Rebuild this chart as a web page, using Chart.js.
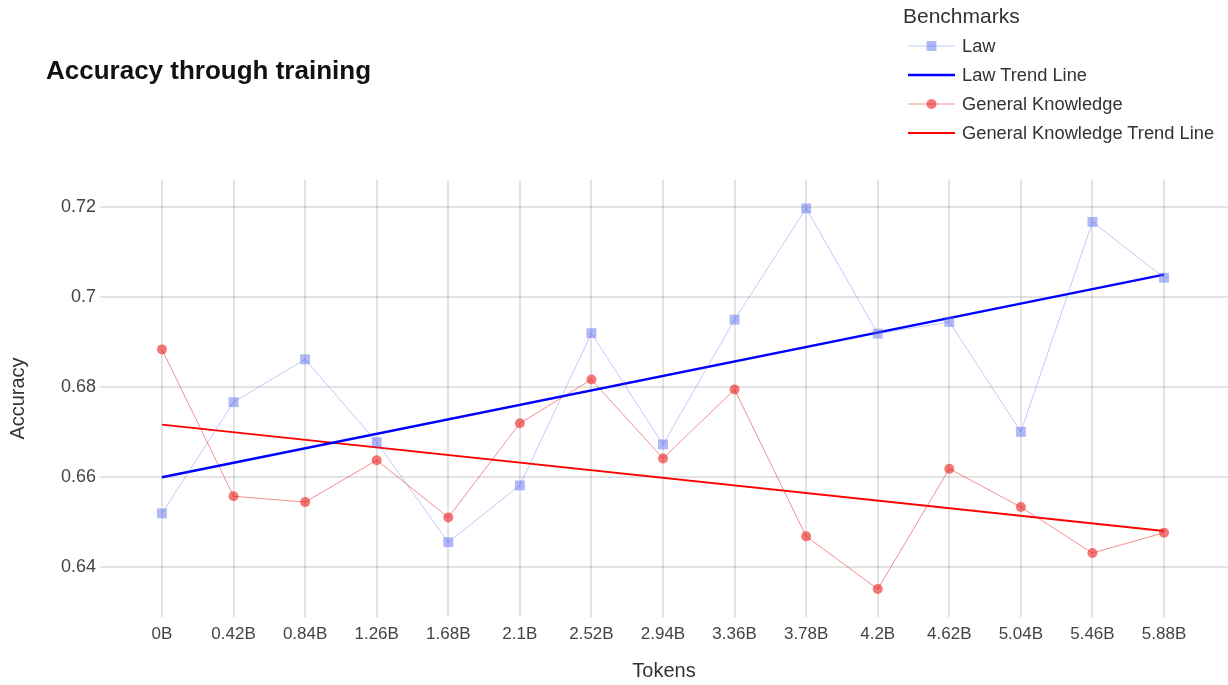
<!DOCTYPE html>
<html>
<head>
<meta charset="utf-8">
<script src="https://cdn.jsdelivr.net/npm/chart.js@4"></script>
<style>
    body { margin: 0; background: #fff; font-family: "Liberation Sans", Arial, sans-serif; }
    #wrap { position: relative; width: 1228px; height: 685px; }
    #title { position: absolute; left: 46px; top: 55px; font-size: 26px; font-weight: bold; color: #111; }
    #legend { position: absolute; left: 903px; top: 0; color: #333; }
    #legend .head { font-size: 21px; line-height: 31px; height: 31px; }
    #legend .row { display: flex; align-items: center; height: 29px; font-size: 18.3px; }
    #legend canvas { margin-left: 5px; margin-right: 7px; }
</style>
</head>
<body>
<div id="wrap">
    <canvas id="chart" width="1228" height="685"></canvas>
    <div id="title">Accuracy through training</div>
    <div id="legend"><div class="head">Benchmarks</div></div>
</div>
<script>
const tokenLabels = ["0B", "0.42B", "0.84B", "1.26B", "1.68B", "2.1B", "2.52B", "2.94B",
    "3.36B", "3.78B", "4.2B", "4.62B", "5.04B", "5.46B", "5.88B"];
const lawAcc = [0.652, 0.6767, 0.6862, 0.6678, 0.6456, 0.6582, 0.692, 0.6673,
    0.695, 0.7197, 0.6919, 0.6945, 0.6701, 0.7167, 0.7043];
const gkAcc = [0.6884, 0.6558, 0.6545, 0.6638, 0.6511, 0.672, 0.6817, 0.6642,
    0.6795, 0.6469, 0.6352, 0.6619, 0.6534, 0.6432, 0.6477];
// trend lines: value at first and last checkpoint
const lawTrend = [0.660, 0.705];
const gkTrend = [0.6717, 0.6481];
const yTicks = [0.64, 0.66, 0.68, 0.70, 0.72];

const last = tokenLabels.length - 1;
const pts = arr => arr.map((v, i) => ({x: i, y: v}));
const ends = arr => [{x: 0, y: arr[0]}, {x: last, y: arr[1]}];

const datasets = [
    {
        label: "Law", data: pts(lawAcc),
        borderColor: "rgba(80,100,240,0.35)", borderWidth: 1,
        pointStyle: "rect", pointRadius: 7, pointBackgroundColor: "rgba(80,100,240,0.45)",
        pointBorderWidth: 0
    },
    {
        label: "Law Trend Line", data: ends(lawTrend),
        borderColor: "#0000ff", borderWidth: 2.5, pointRadius: 0
    },
    {
        label: "General Knowledge", data: pts(gkAcc),
        borderColor: "rgba(235,30,30,0.5)", borderWidth: 1,
        pointStyle: "circle", pointRadius: 5, pointBackgroundColor: "rgba(235,30,30,0.6)",
        pointBorderWidth: 0
    },
    {
        label: "General Knowledge Trend Line", data: ends(gkTrend),
        borderColor: "#ff0000", borderWidth: 2, pointRadius: 0
    }
];

let chart = new Chart(document.getElementById("chart"), {
    type: "line",
    data: {datasets: datasets},
    options: {
        responsive: false,
        animation: false,
        layout: {autoPadding: false, padding: {top: 180, right: 0, left: 0, bottom: 0}},
        plugins: {legend: {display: false}, tooltip: {enabled: false}},
        scales: {
            x: {
                type: "linear", min: -0.866, max: 14.894,
                afterBuildTicks: s => { s.ticks = tokenLabels.map((_, i) => ({value: i})); },
                afterFit: s => { s.height = 68; s.paddingLeft = 0; s.paddingRight = 0; },
                border: {display: false},
                grid: {color: "rgba(0,0,0,0.11)", lineWidth: 2, drawTicks: false},
                ticks: {
                    callback: (v, i) => tokenLabels[i],
                    color: "#444", padding: 7, maxRotation: 0, autoSkip: false,
                    font: {family: "Liberation Sans", size: 17}
                },
                title: {display: true, text: "Tokens", color: "#333", padding: {top: 0, bottom: 2},
                    font: {family: "Liberation Sans", size: 20}}
            },
            y: {
                min: 0.629, max: 0.726,
                afterBuildTicks: s => { s.ticks = yTicks.map(v => ({value: v})); },
                afterFit: s => { s.width = 100; s.paddingTop = 0; s.paddingBottom = 0; },
                border: {display: false},
                grid: {color: "rgba(0,0,0,0.11)", lineWidth: 2, drawTicks: false},
                ticks: {
                    callback: v => String(Number(v.toFixed(2))),
                    color: "#444", padding: 4,
                    font: {family: "Liberation Sans", size: 18}
                },
                title: {display: true, text: "Accuracy", color: "#333", padding: {top: 6, bottom: 0},
                    font: {family: "Liberation Sans", size: 20}}
            }
        }
    }
});

// legend with line + marker symbols
let legend = document.getElementById("legend");
datasets.forEach(ds => {
    let row = document.createElement("div");
    row.className = "row";
    let c = document.createElement("canvas");
    c.width = 47; c.height = 20;
    let ctx = c.getContext("2d");
    ctx.strokeStyle = ds.borderColor;
    ctx.lineWidth = ds.borderWidth;
    ctx.beginPath(); ctx.moveTo(0, 10); ctx.lineTo(47, 10); ctx.stroke();
    if (ds.pointRadius) {
        ctx.fillStyle = ds.pointBackgroundColor;
        ctx.beginPath();
        if (ds.pointStyle === "rect") {
            let h = ds.pointRadius * Math.SQRT1_2;
            ctx.rect(23.5 - h, 10 - h, 2 * h, 2 * h);
        } else {
            ctx.arc(23.5, 10, ds.pointRadius, 0, Math.PI * 2);
        }
        ctx.fill();
    }
    let span = document.createElement("span");
    span.textContent = ds.label;
    row.appendChild(c);
    row.appendChild(span);
    legend.appendChild(row);
});
</script>
</body>
</html>
